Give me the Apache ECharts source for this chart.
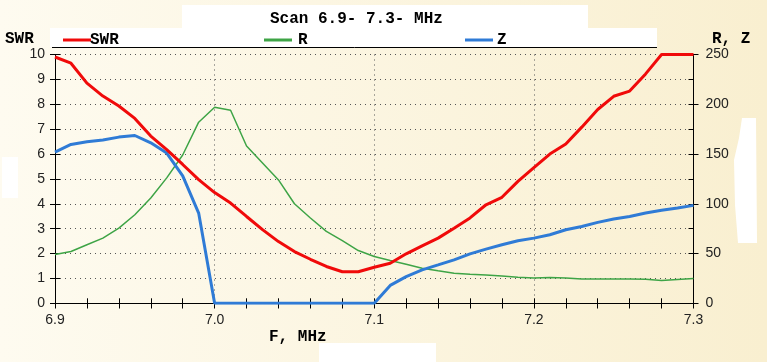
<!DOCTYPE html>
<html>
<head>
<meta charset="utf-8">
<script src="https://cdn.jsdelivr.net/npm/echarts@6/dist/echarts.min.js"></script>
<style>
html,body{margin:0;padding:0;background:#fdf8ea;}
#chart{width:767px;height:362px;}
</style>
</head>
<body>
<div id="chart"></div>
<script>
var freq = [6.90,6.91,6.92,6.93,6.94,6.95,6.96,6.97,6.98,6.99,
            7.00,7.01,7.02,7.03,7.04,7.05,7.06,7.07,7.08,7.09,
            7.10,7.11,7.12,7.13,7.14,7.15,7.16,7.17,7.18,7.19,
            7.20,7.21,7.22,7.23,7.24,7.25,7.26,7.27,7.28,7.29,7.30];
var swr = [9.9,9.65,8.85,8.33,7.93,7.43,6.72,6.18,5.58,4.97,
           4.45,4.03,3.49,2.96,2.48,2.08,1.77,1.48,1.27,1.27,
           1.45,1.61,1.99,2.31,2.62,3.02,3.43,3.96,4.26,4.9,
           5.45,6.0,6.4,7.08,7.79,8.32,8.53,9.22,10,10,10];
var rVals = [49,52,58.8,65.5,75.6,89,105.8,126,149,182,
             197,194,158,141,124,100,85.7,72.2,63,53,
             47,43,39.3,35.3,32.6,30.2,29.2,28.5,27.5,26.2,
             25.5,25.8,25.5,24.5,24.5,24.5,24.5,24.2,22.8,24,24.8];
var zVals = [152,159.6,162.3,164,167,168.6,161.3,151,128,90.7,
             0,0,0,0,0,0,0,0,0,0,
             0,18,26.8,33.6,38.6,43.7,49.7,54.4,58.8,62.8,
             65.5,68.9,73.9,77.2,81.3,84.7,87.3,90.7,93.4,95.8,98.4];
var xTicks = ['6.9','7.0','7.1','7.2','7.3'];

function pairs(vals){ return freq.map(function(f,i){ return [f, vals[i]]; }); }

var MONO = "'Liberation Mono','Courier New',monospace";
var NARROW = "'Liberation Sans Narrow','Arial Narrow','Liberation Sans',Arial,sans-serif";
var lbl = {color:'#222', fontFamily:NARROW, fontSize:14};
var blackLine = {show:true, lineStyle:{color:'#000', width:1}};

var chart = echarts.init(document.getElementById('chart'));
var option = {
  animation:false,
  backgroundColor:{type:'linear', x:0, y:0, x2:1, y2:0,
    colorStops:[{offset:0,color:'#fefbf0'},{offset:1,color:'#f9efd0'}]},
  title:{text:'Scan 6.9- 7.3- MHz', left:265, top:6,
    textStyle:{fontFamily:MONO, fontWeight:'bold', fontSize:16, color:'#000'}},
  legend:[
    {data:['SWR'], left:58, top:27, icon:'rect', itemWidth:28, itemHeight:3,
     textStyle:{fontFamily:MONO, fontWeight:'bold', fontSize:16, color:'#000', padding:[0,0,0,-6]}},
    {data:['R'], left:259, top:27, icon:'rect', itemWidth:28, itemHeight:3,
     textStyle:{fontFamily:MONO, fontWeight:'bold', fontSize:16, color:'#000', padding:[0,0,0,1]}},
    {data:['Z'], left:460, top:27, icon:'rect', itemWidth:28, itemHeight:3,
     textStyle:{fontFamily:MONO, fontWeight:'bold', fontSize:16, color:'#000', padding:[0,0,0,-1]}}
  ],
  grid:{left:55, right:73.5, top:54.5, bottom:58.7},
  xAxis:[
    {type:'value', position:'bottom', min:6.9, max:7.3, interval:0.1,
     axisLine:blackLine,
     axisTick:{show:true, length:5, lineStyle:{color:'#000'}},
     minorTick:{show:true, splitNumber:5, length:5, lineStyle:{color:'#000'}},
     axisLabel:Object.assign({margin:10, fontSize:15, formatter:function(v){
        var s=(Math.round(v*10)/10).toFixed(1); return xTicks.indexOf(s)>=0?s:''; }}, lbl),
     splitLine:{show:true, lineStyle:{color:'#555', type:[1,4], width:1}}},
    {type:'value', position:'bottom', min:6.9, max:7.3, interval:0.02,
     axisLine:{show:false}, axisTick:{show:true, inside:true, length:5, lineStyle:{color:'#000'}},
     axisLabel:{show:false}, splitLine:{show:false}},
    {type:'value', position:'top', min:6.9, max:7.3, interval:0.02,
     axisLine:blackLine, axisTick:{show:true, inside:true, length:5, lineStyle:{color:'#000'}},
     axisLabel:{show:false}, splitLine:{show:false}}
  ],
  yAxis:[
    {type:'value', position:'left', min:0, max:10, interval:1,
     axisLine:blackLine, axisTick:{show:true, length:5, lineStyle:{color:'#000'}},
     axisLabel:Object.assign({margin:10}, lbl),
     splitLine:{show:true, lineStyle:{color:'#555', type:[1,4], width:1}}},
    {type:'value', position:'left', min:0, max:10, interval:1,
     axisLine:{show:false}, axisTick:{show:true, inside:true, length:5, lineStyle:{color:'#000'}},
     axisLabel:{show:false}, splitLine:{show:false}},
    {type:'value', position:'right', min:0, max:250, interval:50,
     axisLine:blackLine, axisTick:{show:true, length:5, lineStyle:{color:'#000'}},
     axisLabel:Object.assign({margin:12}, lbl),
     splitLine:{show:false}},
    {type:'value', position:'right', min:0, max:250, interval:25,
     axisLine:{show:false}, axisTick:{show:true, inside:true, length:5, lineStyle:{color:'#000'}},
     axisLabel:{show:false}, splitLine:{show:false}}
  ],
  series:[
    {name:'SWR', type:'line', xAxisIndex:0, yAxisIndex:0, data:pairs(swr),
     showSymbol:false, color:'#f00a0a', lineStyle:{width:3, color:'#f00a0a'}, z:5},
    {name:'R', type:'line', xAxisIndex:0, yAxisIndex:2, data:pairs(rVals),
     showSymbol:false, color:'#3ea446', lineStyle:{width:1.5, color:'#3ea446'}, z:3},
    {name:'Z', type:'line', xAxisIndex:0, yAxisIndex:2, data:pairs(zVals),
     showSymbol:false, color:'#2f7bd6', lineStyle:{width:3, color:'#2f7bd6'}, z:4}
  ],
  graphic:[
    {type:'rect', z:-1, shape:{x:182,y:5,width:406,height:23}, style:{fill:'#ffffff'}},
    {type:'rect', z:-1, shape:{x:50,y:28,width:607,height:19}, style:{fill:'#ffffff'}},
    {type:'line', shape:{x1:52,y1:47.5,x2:657,y2:47.5}, style:{stroke:'#000', lineWidth:1}},
    {type:'rect', z:-1, shape:{x:2,y:157,width:16,height:41}, style:{fill:'#ffffff'}},
    {type:'polygon', z:-1, shape:{points:[[742,118],[756,118],[757,243],[738,243],[735,205],[734,160],[739,138]]}, style:{fill:'#ffffff'}},
    {type:'rect', z:-1, shape:{x:319,y:343,width:117,height:19}, style:{fill:'#ffffff'}},
    {type:'text', left:5, top:31, style:{text:'SWR', font:"bold 16px "+MONO, fill:'#000'}},
    {type:'text', left:712, top:31, style:{text:'R, Z', font:"bold 16px "+MONO, fill:'#000'}},
    {type:'text', left:269, top:329, style:{text:'F, MHz', font:"bold 16px "+MONO, fill:'#000'}}
  ]
};
chart.setOption(option);
</script>
</body>
</html>
